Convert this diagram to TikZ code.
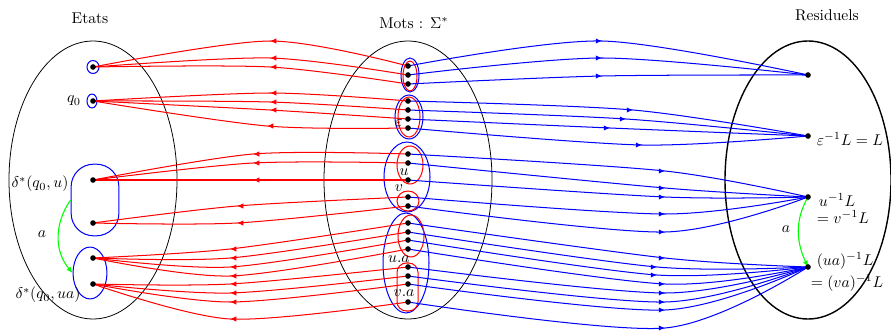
\documentclass[tikz,border=0pt]{standalone}
\usetikzlibrary{arrows.meta,shapes.geometric}
\begin{document}
\begin{tikzpicture}[x=0.0225cm,y=-0.0225cm,
  rline/.style={red,line width=0.65pt},
  bline/.style={blue,line width=0.65pt},
  rtip/.style={red,line width=0.65pt,-{Latex[length=4pt,width=3.4pt]}},
  btip/.style={blue,line width=0.65pt,-{Latex[length=4pt,width=3.4pt]}},
  garrow/.style={green,line width=0.7pt,-{Latex[length=4pt,width=3.4pt]}},
  bigell/.style={black,line width=0.5pt},
  lab/.style={inner sep=1pt}]
\useasboundingbox (0,0) rectangle (891,330);

% big sets
\draw[bigell] (93,180) ellipse [x radius=84, y radius=139];
\draw[bigell] (408,180) ellipse [x radius=84, y radius=139];
\draw[black,line width=0.9pt] (808,180) ellipse [x radius=83, y radius=139];

\node[lab] (tEtats) at (90,18) {Etats};
\node[lab] (tMots) at (414,23) {Mots : $\Sigma^*$};
\node[lab] (tRes) at (827,15) {Residuels};

% coordinates of points
\coordinate (l1) at (93,67);
\coordinate (l2) at (93,101);
\coordinate (l3) at (93,180);
\coordinate (l4) at (93,223);
\coordinate (l5) at (93,258);
\coordinate (l6) at (93,284);
\coordinate (r1) at (808,75);
\coordinate (r2) at (808,136);
\coordinate (r3) at (808,197);
\coordinate (r4) at (808,267);
\foreach \i/\y in {1/66,2/75,3/84,4/101,5/110,6/119,7/128,8/154,9/163,10/180,11/197,12/206,13/223,14/232,15/240,16/249,17/267,18/276,19/284,20/302}
  \coordinate (m\i) at (408,\y);

% left groups (blue)
\node[draw=blue,line width=0.65pt,ellipse,inner sep=0pt,minimum width=7.7pt,minimum height=8.3pt] (g1) at (93,67) {};
\node[draw=blue,line width=0.65pt,ellipse,inner sep=0pt,minimum width=6.4pt,minimum height=8.9pt] (g2) at (92,101) {};
\node[draw=blue,line width=0.65pt,rectangle,rounded corners=14.5pt,inner sep=0pt,minimum width=30.6pt,minimum height=45.9pt] (bu) at (95,200) {};
\node[draw=blue,line width=0.65pt,ellipse,inner sep=0pt,minimum width=21.7pt,minimum height=33.2pt] (bua) at (90,273) {};

% middle groups
\draw[bline] (410,75) ellipse [x radius=9, y radius=17];
\draw[rline] (410,76) ellipse [x radius=7, y radius=15];
\draw[bline] (409,117) ellipse [x radius=14, y radius=22];
\draw[rline] (409,117) ellipse [x radius=11, y radius=20];
\draw[bline] (407,177) ellipse [x radius=23, y radius=35];
\draw[rline] (410,165) ellipse [x radius=13, y radius=19];
\draw[rline] (408,201) ellipse [x radius=11, y radius=10];
\draw[bline] (406,263) ellipse [x radius=23, y radius=50];
\draw[rline] (411,236) ellipse [x radius=13, y radius=21];
\draw[rline,rounded corners=6pt] (397,263) rectangle (418,311);

% red connectors (words -> states)
\foreach \m/\x/\y/\l in {1/270/41/l1, 2/270/58/l1, 3/270/67/l1, 4/270/93/l2, 5/270/102/l2, 6/270/110/l2, 7/267/126/l2, 8/253/154/l3, 9/253/163/l3, 10/253/180/l3, 11/237/206/l4, 12/237/223/l4, 13/230/249/l5, 14/230/258/l5, 15/230/267/l5, 16/230/276/l5, 17/230/284/l6, 18/230/293/l6, 19/230/302/l6, 20/230/319/l6}{
  \draw[rline] plot[smooth] coordinates {(m\m) (\x,\y) (\l)};
  \draw[rtip] ({\x+4},\y) -- (\x,\y);
}

% blue connectors (words -> residuals)
\foreach \m/\x/\y/\r in {1/602/41/r1, 2/602/58/r1, 3/602/76/r1, 4/633/110/r2, 5/626/119/r2, 6/610/128/r2, 7/642/145/r2, 8/665/171/r3, 9/665/188/r3, 10/665/197/r3, 11/665/214/r3, 12/665/232/r3, 13/665/258/r4, 14/657/267/r4, 15/657/275/r4, 16/665/284/r4, 17/665/293/r4, 18/665/302/r4, 19/665/310/r4, 20/665/328/r4}{
  \draw[bline] plot[smooth] coordinates {(m\m) (\x,\y) (\r)};
  \draw[btip] ({\x-4},\y) -- (\x,\y);
}

% green transitions
\draw[garrow] (bu.west) to[out=235,in=130] (bua.west);
\draw[garrow] (r3) to[out=240,in=115] (r4);

% dots
\foreach \p in {l1,l2,l3,l4,l5,l6,r1,r2,r3,r4}
  \fill (\p) circle [radius=1.8pt];
\foreach \i in {1,...,20}
  \fill (m\i) circle [radius=1.8pt];

% labels
\node[lab] (lq0) at (74,101) {$q_0$};
\node[lab] (ldu) at (40,184) {$\delta^*(q_0,u)$};
\node[lab] (ldua) at (48,295) {$\delta^*(q_0,ua)$};
\node[lab] (la1) at (42,234) {$a$};
\node[lab] (leps) at (399,123) {$\varepsilon$};
\node[lab] (lu) at (404,172) {$u$};
\node[lab] (lv) at (399,188) {$v$};
\node[lab] (lua) at (399,259) {$u.a$};
\node[lab] (lva) at (404,293) {$v.a$};
\node[lab,anchor=west] (lr2) at (815,139) {$\varepsilon^{-1}L=L$};
\node[lab,anchor=west] (lr3) at (817,200) {$u^{-1}L$};
\node[lab,anchor=west] (lr3b) at (815,217) {$=v^{-1}L$};
\node[lab,anchor=west] (lr4) at (815,261) {$(ua)^{-1}L$};
\node[lab,anchor=west] (lr4b) at (809,283) {$=(va)^{-1}L$};
\node[lab] (la2) at (786,229) {$a$};
\end{tikzpicture}
\end{document}
